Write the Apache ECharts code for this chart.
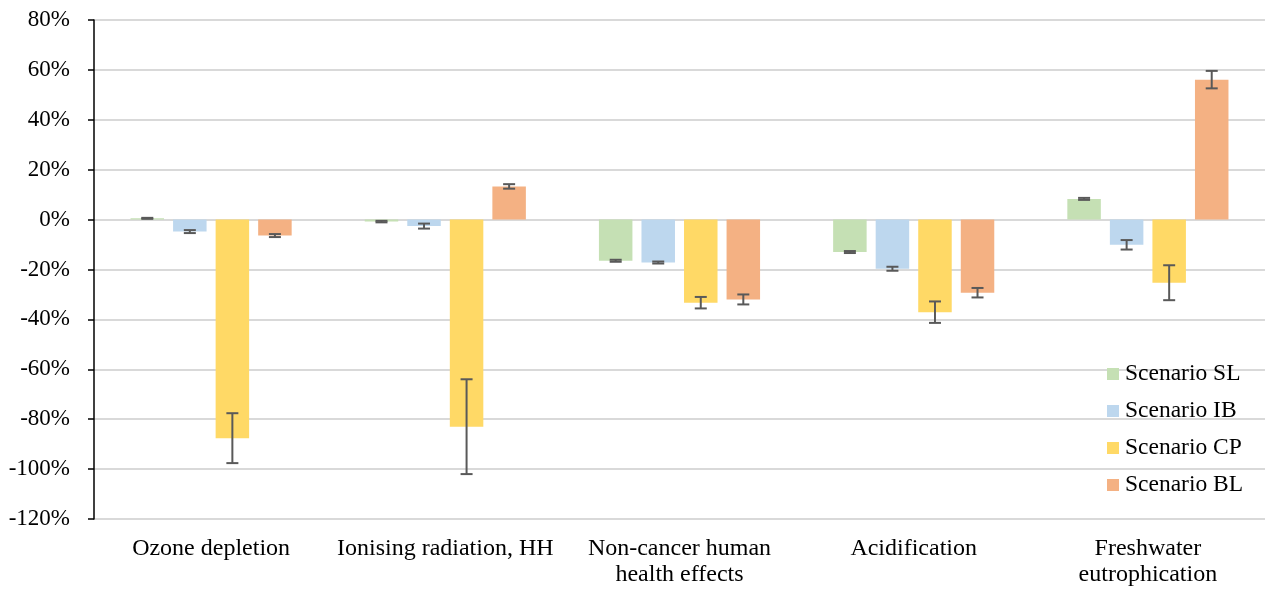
<!DOCTYPE html>
<html>
<head>
<meta charset="utf-8">
<script src="https://cdn.jsdelivr.net/npm/echarts@6/dist/echarts.min.js"></script>
<style>html,body{margin:0;padding:0;background:#fff}#c{width:1273px;height:589px}</style>
</head>
<body>
<div id="c"></div>
<script>
const categories = ['Ozone depletion', 'Ionising radiation, HH', 'Non-cancer human\nhealth effects', 'Acidification', 'Freshwater\neutrophication'];
const seriesNames = ['Scenario SL', 'Scenario IB', 'Scenario CP', 'Scenario BL'];
const SL = [0.5, -0.8, -16.5, -13.0, 8.3];
const SL_err = [0.2, 0.3, 0.4, 0.4, 0.4];
const IB = [-4.8, -2.6, -17.2, -19.7, -10.1];
const IB_err = [0.6, 1.0, 0.4, 0.8, 1.9];
const CP = [-87.6, -83.0, -33.3, -37.1, -25.3];
const CP_err = [10.0, 19.0, 2.3, 4.3, 7.0];
const BL = [-6.4, 13.3, -32.0, -29.3, 56.1];
const BL_err = [0.6, 0.9, 2.0, 1.9, 3.5];
const yTicks = {min: -120, max: 80, interval: 20};

const colors = ['#C5E0B4', '#BDD7EE', '#FFD966', '#F4B183'];
const values = [SL, IB, CP, BL];
const errors = [SL_err, IB_err, CP_err, BL_err];
const BAR_W = 33.5, GAP = 0.27;
const FONT = '"Liberation Serif", "Times New Roman", serif';

const series = [];
values.forEach((v, k) => {
  series.push({
    name: seriesNames[k], type: 'bar', data: v, barWidth: BAR_W, barGap: (GAP*100)+'%',
    itemStyle: {color: colors[k]},
    z: 2
  });
});
values.forEach((v, k) => {
  series.push({
    type: 'custom', name: seriesNames[k] + ' err', z: 5, silent: true,
    data: v.map((val, i) => [i, val, errors[k][i]]),
    renderItem: function (params, api) {
      const i = api.value(0), val = api.value(1), e = api.value(2);
      const pitch = BAR_W * (1 + GAP);
      const off = (k - 1.5) * pitch;
      const hi = api.coord([i, val + e]);
      const lo = api.coord([i, val - e]);
      const x = hi[0] + off;
      const half = 6;
      const st = {stroke: '#595959', lineWidth: 2};
      return {type: 'group', children: [
        {type: 'line', shape: {x1: x, y1: hi[1], x2: x, y2: lo[1]}, style: st},
        {type: 'line', shape: {x1: x - half, y1: hi[1], x2: x + half, y2: hi[1]}, style: st},
        {type: 'line', shape: {x1: x - half, y1: lo[1], x2: x + half, y2: lo[1]}, style: st}
      ]};
    }
  });
});

const chart = echarts.init(document.getElementById('c'), null, {renderer: 'canvas'});
chart.setOption({
  animation: false,
  backgroundColor: '#fff',
  grid: {left: 94, right: 8, top: 20, bottom: 70, containLabel: false},
  legend: {
    data: seriesNames, orient: 'vertical', left: 1107, top: 361, padding: 0,
    itemWidth: 12, itemHeight: 12, itemGap: 11, icon: 'rect',
    textStyle: {fontFamily: FONT, fontSize: 23.5, color: '#000', lineHeight: 26, padding: [0, 0, 0, 1]}
  },
  xAxis: {
    type: 'category', data: categories,
    axisLine: {show: false}, axisTick: {show: false},
    axisLabel: {interval: 0, fontFamily: FONT, fontSize: 24, color: '#000', lineHeight: 26, margin: 17}
  },
  yAxis: {
    type: 'value', min: yTicks.min, max: yTicks.max, interval: yTicks.interval,
    axisLine: {show: true, lineStyle: {color: '#000', width: 1.5}},
    axisTick: {show: true, length: 6, lineStyle: {color: '#000', width: 1.5}},
    axisLabel: {formatter: '{value}%', fontFamily: FONT, fontSize: 23, color: '#000', margin: 24},
    splitLine: {lineStyle: {color: '#d9d9d9', width: 2}}
  },
  series: series
});
</script>
</body>
</html>
